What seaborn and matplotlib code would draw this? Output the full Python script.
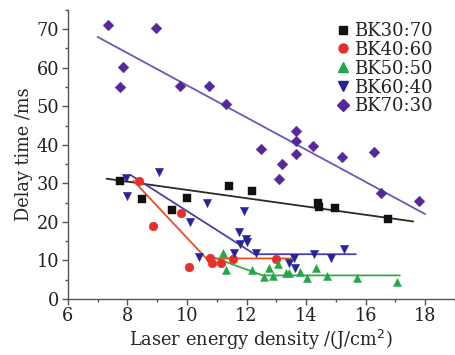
import numpy as np
import pandas as pd
import matplotlib
matplotlib.use("Agg")
import matplotlib.pyplot as plt
import seaborn as sns

series = ["BK30:70", "BK40:60", "BK50:50", "BK60:40", "BK70:30"]

bk30_x = [7.76, 8.5, 9.51, 10.0, 11.41, 12.19, 14.39, 14.42, 14.96, 16.74]
bk30_y = [30.7, 26.0, 23.1, 26.3, 29.4, 27.9, 24.8, 23.8, 23.5, 20.7]

bk40_x = [8.39, 8.86, 9.79, 10.07, 10.76, 10.85, 11.15, 11.55, 13.0]
bk40_y = [30.6, 19.0, 22.3, 8.4, 10.5, 9.3, 9.3, 10.4, 10.3]

bk50_x = [11.21, 11.3, 12.19, 12.58, 12.77, 12.9, 13.05, 13.31, 13.42, 13.81, 14.02, 14.34, 14.71, 15.71, 17.05]
bk50_y = [11.8, 7.5, 7.5, 5.8, 8.0, 6.0, 9.0, 6.8, 6.8, 7.1, 5.4, 8.0, 6.0, 5.4, 4.3]

bk60_x = [7.94, 7.99, 9.05, 10.09, 10.4, 10.67, 11.59, 11.74, 11.77, 11.9, 11.97, 12.02, 12.32, 13.41, 13.6, 13.64, 14.25, 14.84, 15.26]
bk60_y = [31.4, 26.8, 32.9, 19.9, 11.0, 24.9, 11.9, 17.3, 14.2, 22.9, 15.6, 14.9, 11.9, 9.3, 10.7, 7.9, 11.7, 10.7, 12.9]

bk70_x = [7.34, 8.95, 7.85, 7.74, 9.78, 10.73, 11.30, 12.47, 13.66, 13.66, 14.22, 13.66, 15.2, 16.27, 13.19, 13.08, 16.53, 17.8]
bk70_y = [71.0, 70.4, 60.3, 54.9, 55.2, 55.3, 50.7, 38.9, 43.6, 40.9, 39.8, 37.7, 36.8, 38.0, 35.1, 31.2, 27.4, 25.3]

# fitted trend lines (vertices)
fit30_x = [7.3, 17.6];        fit30_y = [31.2, 20.1]
fit40_x = [8.2, 10.65, 13.5]; fit40_y = [30.7, 10.5, 10.5]
fit50_x = [10.8, 12.55, 17.15]; fit50_y = [11.0, 6.1, 6.1]
fit60_x = [8.1, 12.27, 15.67]; fit60_y = [32.2, 11.6, 11.6]
fit70_x = [7.0, 18.0];        fit70_y = [68.0, 22.0]

marker_colors = ["#111111", "#e8302a", "#22a84a", "#25259a", "#55279a"]
line_colors = ["#2a2a2a", "#e5502a", "#3aa844", "#4a3fa8", "#6a58b8"]
markers = ["s", "o", "^", "v", "D"]
sizes = [32, 40, 34, 36, 30]

pts = [(bk30_x, bk30_y), (bk40_x, bk40_y), (bk50_x, bk50_y), (bk60_x, bk60_y), (bk70_x, bk70_y)]
fits = [(fit30_x, fit30_y), (fit40_x, fit40_y), (fit50_x, fit50_y), (fit60_x, fit60_y), (fit70_x, fit70_y)]

sns.set_style("ticks")
plt.rcParams['font.family'] = ['DejaVu Serif']
plt.rcParams['text.color'] = '#222222'

fig = plt.figure(figsize=(4.55, 3.55), dpi=100)
ax = fig.add_axes([0.149, 0.158, 0.851, 0.814])

handles = []
for i, name in enumerate(series):
    fx, fy = fits[i]
    ldf = pd.DataFrame({"x": fx, "y": fy})
    sns.lineplot(data=ldf, x="x", y="y", sort=False, color=line_colors[i], lw=1.3, ax=ax, legend=False, zorder=2)
for i, name in enumerate(series):
    px, py = pts[i]
    df = pd.DataFrame({"x": px, "y": py})
    sns.scatterplot(data=df, x="x", y="y", marker=markers[i], color=marker_colors[i], s=sizes[i],
                    edgecolor=marker_colors[i], linewidth=0.3, ax=ax, legend=False, zorder=3)
    handles.append(plt.Line2D([], [], marker=markers[i], color=marker_colors[i], ls="", markersize=6.5 if i else 5.5, label=name))

ax.set_xlim(6, 19)
ax.set_ylim(0, 75)
ax.set_xticks([6, 8, 10, 12, 14, 16, 18])
ax.set_yticks([0, 10, 20, 30, 40, 50, 60, 70])
ax.set_xticks(np.arange(7, 19.1, 2), minor=True)
ax.set_yticks(np.arange(5, 75.1, 10), minor=True)
ax.tick_params(axis="both", which="major", labelsize=12.8, length=4, width=1, color="#555555", pad=2,
               labelcolor="#222222")
ax.tick_params(axis="both", which="minor", length=2.5, width=1, color="#555555")
for s in ["left", "bottom"]:
    ax.spines[s].set_color("#555555")
    ax.spines[s].set_linewidth(1)
sns.despine(ax=ax)
ax.set_xlabel("Laser energy density /(J/cm$^2$)", fontsize=12.8, labelpad=2)
ax.set_ylabel("Delay time /ms", fontsize=12.8, labelpad=3)

ax.legend(handles=handles, loc="upper right", bbox_to_anchor=(0.965, 0.99), frameon=False, fontsize=13,
          handletextpad=0.1, labelspacing=0.05, handlelength=1.0, borderaxespad=0.1)

fig.savefig("out.png", dpi=100)
